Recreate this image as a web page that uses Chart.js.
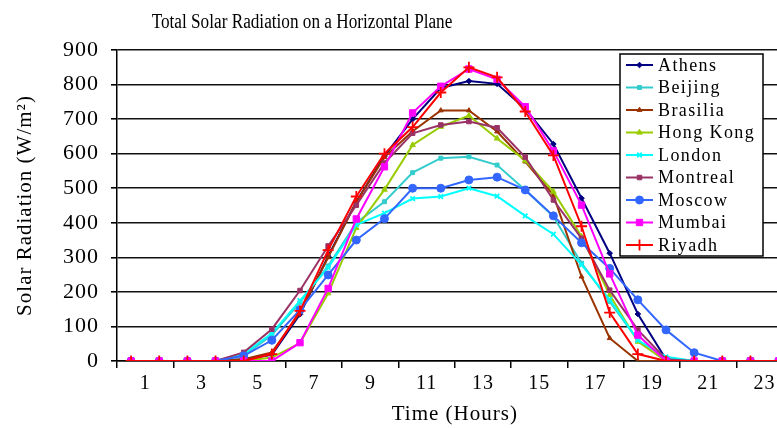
<!DOCTYPE html>
<html>
<head>
<meta charset="utf-8">
<script src="https://cdn.jsdelivr.net/npm/chart.js@4.4.1/dist/chart.umd.min.js"></script>
<style>
  html, body { margin: 0; padding: 0; background: #fff; overflow: hidden; }
  #wrap { width: 800px; height: 428px; }
</style>
</head>
<body>
<div id="wrap"><canvas id="solarChart" width="800" height="428"></canvas></div>
<script>
'use strict';

// hours of the day (one point per hour)
const hours = [1, 2, 3, 4, 5, 6, 7, 8, 9, 10, 11, 12, 13, 14, 15, 16, 17, 18, 19, 20, 21, 22, 23, 24];
const yTicks = [0, 100, 200, 300, 400, 500, 600, 700, 800, 900];

const chartTitle = 'Total Solar Radiation on a Horizontal Plane';
const cities = ['Athens', 'Beijing', 'Brasilia', 'Hong Kong', 'London', 'Montreal', 'Moscow', 'Mumbai', 'Riyadh'];

// W/m2
const athens   = [0, 0, 0, 0, 5, 18, 135, 303, 461, 593, 700, 790, 810, 802, 730, 628, 471, 312, 136, 5, 0, 0, 0, 0];
const beijing  = [0, 0, 0, 0, 15, 75, 170, 275, 400, 461, 545, 587, 591, 567, 495, 418, 283, 172, 60, 10, 0, 0, 0, 0];
const brasilia = [0, 0, 0, 0, 5, 25, 140, 300, 460, 590, 665, 725, 725, 664, 577, 480, 244, 66, 0, 0, 0, 0, 0, 0];
const hongKong = [0, 0, 0, 0, 0, 10, 52, 196, 385, 496, 625, 678, 710, 644, 580, 490, 360, 191, 56, 0, 0, 0, 0, 0];
const london   = [0, 0, 0, 0, 20, 80, 175, 270, 394, 428, 470, 476, 500, 477, 420, 367, 278, 178, 60, 12, 0, 0, 0, 0];
const montreal = [0, 0, 0, 0, 25, 92, 204, 333, 451, 573, 659, 683, 693, 675, 590, 466, 355, 205, 90, 5, 0, 0, 0, 0];
const moscow   = [0, 0, 0, 0, 15, 60, 148, 249, 350, 412, 500, 500, 524, 532, 495, 420, 342, 268, 177, 90, 24, 0, 0, 0];
const mumbai   = [0, 0, 0, 0, 0, 0, 53, 210, 411, 562, 718, 795, 845, 815, 736, 608, 451, 252, 75, 0, 0, 0, 0, 0];
const riyadh   = [0, 0, 0, 0, 0, 20, 145, 321, 476, 600, 677, 777, 850, 821, 722, 595, 390, 140, 20, 0, 0, 0, 0, 0];

const seriesValues = [athens, beijing, brasilia, hongKong, london, montreal, moscow, mumbai, riyadh];

const lineColors = ['#000080', '#33CCCC', '#993300', '#99CC00', '#00FFFF', '#993366', '#3366FF', '#FF00FF', '#FF0000'];
const pointStyles = ['rectRot', 'rect', 'triangle', 'triangle', 'crossRot', 'rect', 'circle', 'rect', 'cross'];
const pointSizes = [2.8, 2.8, 2.8, 3.2, 3.2, 3.2, 4, 4.5, 5.5];

const serif = '"Liberation Serif", "Times New Roman", serif';

// each hour sits in the middle of its one-hour slot on the axis
const datasets = cities.map((name, i) => ({
  label: name,
  data: hours.map((h, k) => ({ x: h - 0.5, y: seriesValues[i][k] })),
  borderColor: lineColors[i],
  backgroundColor: lineColors[i],
  borderWidth: 2,
  pointStyle: pointStyles[i],
  pointRadius: pointSizes[i],
  pointBorderWidth: pointStyles[i] === 'cross' || pointStyles[i] === 'crossRot' ? 1.8 : 1,
  tension: 0,
  order: cities.length - i
}));

// the old chart's text is set wide, so space the letters a bit
const wideText = {
  id: 'wideText',
  beforeDraw(chart) { chart.ctx.letterSpacing = '1px'; }
};

// title and legend box drawn by hand, legend sits inside the plot
const boxLegend = {
  id: 'boxLegend',
  afterDraw(chart) {
    const ctx = chart.ctx;
    ctx.save();
    // title is tall but narrow in the original
    ctx.save();
    ctx.letterSpacing = '0px';
    ctx.fillStyle = '#000';
    ctx.font = '20px ' + serif;
    ctx.textAlign = 'center';
    ctx.textBaseline = 'middle';
    ctx.translate(302, 23);
    ctx.scale(0.86, 1);
    ctx.fillText(chartTitle, 0, 0);
    ctx.restore();

    const left = 620, top = 54, w = 143, h = 202;
    ctx.fillStyle = '#fff';
    ctx.fillRect(left, top, w, h);
    ctx.strokeStyle = '#000';
    ctx.lineWidth = 1.5;
    ctx.strokeRect(left, top, w, h);
    ctx.letterSpacing = '1.4px';
    ctx.font = '18px ' + serif;
    ctx.textAlign = 'left';
    ctx.textBaseline = 'middle';
    chart.data.datasets.forEach((ds, i) => {
      const y = top + 11 + i * 22.5;
      ctx.strokeStyle = ds.borderColor;
      ctx.lineWidth = 2;
      ctx.beginPath();
      ctx.moveTo(left + 6, y);
      ctx.lineTo(left + 33, y);
      ctx.stroke();
      ctx.fillStyle = ds.backgroundColor;
      ctx.lineWidth = ds.pointBorderWidth;
      if (Chart.helpers && Chart.helpers.drawPoint) {
        Chart.helpers.drawPoint(ctx, {
          pointStyle: ds.pointStyle, radius: ds.pointRadius, rotation: 0, borderWidth: ds.pointBorderWidth
        }, left + 19.5, y);
      } else {
        ctx.fillRect(left + 16, y - 3, 6, 6);
      }
      ctx.fillStyle = '#000';
      ctx.fillText(ds.label, left + 38, y + 1);
    });
    ctx.restore();
  }
};

new Chart(document.getElementById('solarChart').getContext('2d'), {
  type: 'line',
  data: { datasets: datasets },
  plugins: [wideText, boxLegend],
  options: {
    responsive: false,
    animation: false,
    devicePixelRatio: 1,
    layout: { padding: { top: 50, right: 6 } },
    plugins: {
      legend: { display: false },
      tooltip: { enabled: false },
      title: { display: false }
    },
    scales: {
      x: {
        type: 'linear',
        min: 0,
        max: 24,
        afterFit: s => { s.height = 67; },
        afterBuildTicks: s => { s.ticks = [0].concat(hours).map(h => ({ value: h })); },
        ticks: {
          color: '#000',
          autoSkip: false,
          maxRotation: 0,
          padding: 4,
          font: { family: serif, size: 20 },
          callback: v => (v % 2 === 1 ? String(v) : '')
        },
        grid: {
          drawOnChartArea: false,
          drawTicks: true,
          tickLength: 7,
          lineWidth: 1.5,
          color: c => (c.tick && c.tick.value % 2 === 0 ? '#000' : 'rgba(0,0,0,0)')
        },
        border: { display: true, color: '#000', width: 1.5 },
        title: {
          display: true,
          text: 'Time (Hours)',
          color: '#000',
          font: { family: serif, size: 21 },
          padding: { top: 0, bottom: 1 }
        }
      },
      y: {
        min: 0,
        max: 900,
        afterFit: s => { s.width = 117; },
        afterBuildTicks: s => { s.ticks = yTicks.map(v => ({ value: v })); },
        ticks: {
          color: '#000',
          padding: 12,
          font: { family: serif, size: 22 }
        },
        grid: {
          color: '#111',
          lineWidth: 1.6,
          tickLength: 6,
          tickColor: '#000'
        },
        border: { display: true, color: '#000', width: 1.5 },
        title: {
          display: true,
          text: 'Solar Radiation (W/m²)',
          color: '#000',
          font: { family: serif, size: 21 },
          padding: { top: 13, bottom: 0 }
        }
      }
    }
  }
});
</script>
</body>
</html>
